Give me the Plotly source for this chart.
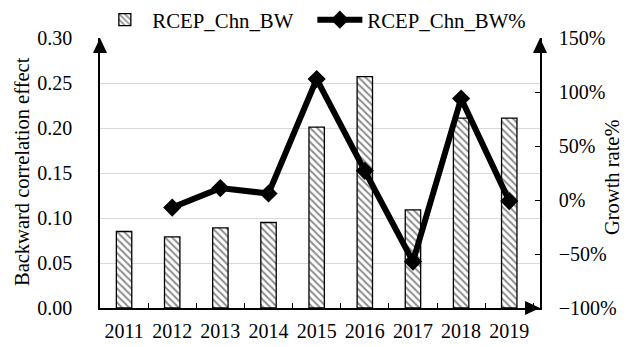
import plotly.graph_objects as go

years = ["2011", "2012", "2013", "2014", "2015", "2016", "2017", "2018", "2019"]
bw_values = [0.085, 0.079, 0.089, 0.095, 0.201, 0.257, 0.109, 0.211, 0.211]
growth_years = ["2012", "2013", "2014", "2015", "2016", "2017", "2018", "2019"]
growth_values = [-0.07, 0.11, 0.06, 1.12, 0.27, -0.57, 0.94, -0.01]
left_ticks = [0, 0.05, 0.10, 0.15, 0.20, 0.25, 0.30]
right_ticks = [-1.0, -0.5, 0.0, 0.5, 1.0, 1.5]

FONT = "Liberation Serif"

fig = go.Figure()
fig.add_trace(go.Bar(
    x=years, y=bw_values, name="RCEP_Chn_BW", width=0.32,
    marker=dict(color="white", line=dict(color="black", width=1.3),
                pattern=dict(shape="\\", fgcolor="#1a1a1a", bgcolor="white", size=5, solidity=0.4)),
))
fig.add_trace(go.Scatter(
    x=growth_years, y=growth_values, name="RCEP_Chn_BW%", yaxis="y2",
    mode="lines+markers", line=dict(color="black", width=6),
    marker=dict(symbol="diamond", size=14, color="black"),
))

# axis arrowheads (paper coords)
shapes = [
    dict(type="path", xref="paper", yref="paper", path="M -0.016,0.944 L 0,1 L 0.016,0.944 Z",
         fillcolor="black", line=dict(width=0)),
    dict(type="path", xref="paper", yref="paper", path="M 0.984,0.944 L 1,1 L 1.016,0.944 Z",
         fillcolor="black", line=dict(width=0)),
    dict(type="path", xref="paper", yref="paper", path="M 0.966,0.026 L 1,0 L 0.966,-0.026 Z",
         fillcolor="black", line=dict(width=0)),
]

annotations = [
    dict(text="Backward correlation effect", xref="paper", yref="paper", x=-0.177, y=0.504,
         xanchor="center", yanchor="middle", textangle=-90, showarrow=False,
         font=dict(family=FONT, size=20.5)),
    dict(text="Growth rate%", xref="paper", yref="paper", x=1.1636, y=0.485,
         xanchor="center", yanchor="middle", textangle=-90, showarrow=False,
         font=dict(family=FONT, size=20.5)),
]

fig.update_layout(
    width=623, height=339,
    margin=dict(l=92, r=91, t=30, b=39, autoexpand=False),
    paper_bgcolor="white", plot_bgcolor="white",
    font=dict(family=FONT, size=20, color="black"),
    shapes=shapes,
    annotations=annotations,
    showlegend=True,
    legend=dict(orientation="h", x=-0.006, xanchor="left", y=1.066, yanchor="middle",
                font=dict(family=FONT, size=20.8), entrywidth=155, entrywidthmode="pixels",
                bgcolor="rgba(0,0,0,0)", itemwidth=45),
    xaxis=dict(type="category", showline=True, linecolor="black", linewidth=1.5,
               ticks="inside", tickson="boundaries", ticklen=5, tickcolor="black",
               showgrid=False, tickfont=dict(size=20), tickangle=0, ticklabelstandoff=4),
    yaxis=dict(range=[0, 0.30], tickvals=left_ticks, tickformat=".2f",
               showline=True, linecolor="black", linewidth=1.5, ticks="",
               showgrid=True, gridcolor="#d9d9d9", gridwidth=1.2, zeroline=False,
               tickfont=dict(size=20), ticklabelstandoff=22),
    yaxis2=dict(range=[-1.0, 1.5], tickvals=right_ticks, tickformat=".0%", overlaying="y",
                side="right", showline=True, linecolor="black", linewidth=1.5,
                ticks="inside", ticklen=5, tickcolor="black", showgrid=False, zeroline=False,
                tickfont=dict(size=20), ticklabelstandoff=13),
)

fig.write_html("out.html")
